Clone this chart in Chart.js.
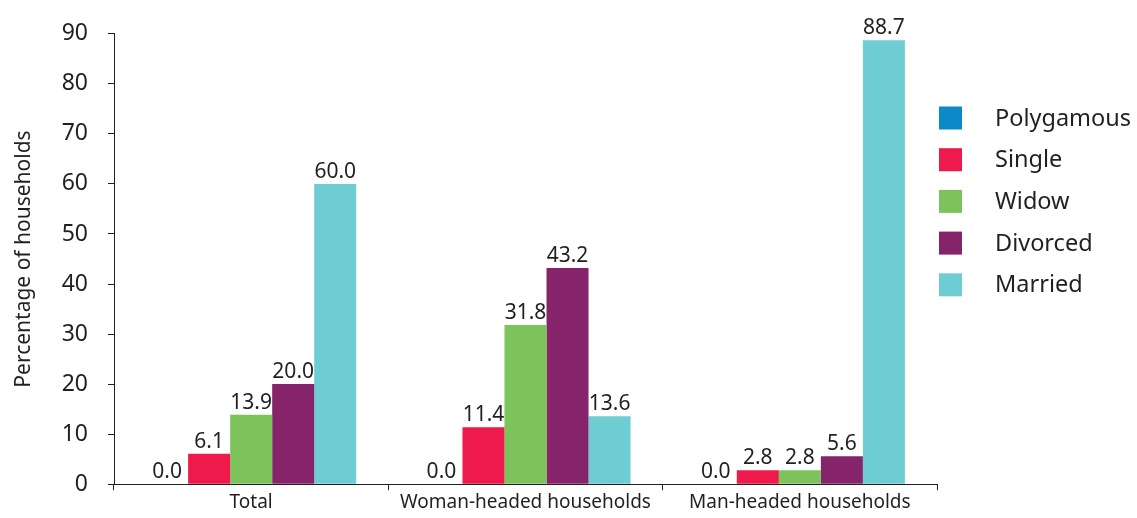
<!DOCTYPE html>
<html>
<head>
<meta charset="utf-8">
<script src="https://cdn.jsdelivr.net/npm/chart.js@4/dist/chart.umd.min.js"></script>
<style>
  html, body { margin: 0; padding: 0; background: #fff; }
  #wrap { width: 1137px; height: 518px; }
</style>
</head>
<body>
<div id="wrap"><canvas id="chart" width="1137" height="518"></canvas></div>
<script>
const categories = ["Total", "Woman-headed households", "Man-headed households"];
const seriesNames = ["Polygamous", "Single", "Widow", "Divorced", "Married"];
const polygamous = [0.0, 0.0, 0.0];
const single = [6.1, 11.4, 2.8];
const widow = [13.9, 31.8, 2.8];
const divorced = [20.0, 43.2, 5.6];
const married = [60.0, 13.6, 88.7];
const colors = ["#0a8ac6", "#ed1a4b", "#7dc35b", "#85246b", "#6ecdd2"];

const FONT = "'Noto Sans', sans-serif";
const INK = "#231f20";

const datasets = [polygamous, single, widow, divorced, married].map((vals, i) => ({
  label: seriesNames[i],
  data: vals,
  backgroundColor: colors[i],
  borderWidth: 0,
  categoryPercentage: 0.766,
  barPercentage: 1.0
}));

// value labels above each bar
const barLabels = {
  id: "barLabels",
  afterDatasetsDraw(chart) {
    const { ctx } = chart;
    ctx.save();
    ctx.font = "21px " + FONT;
    ctx.fillStyle = INK;
    ctx.textAlign = "center";
    ctx.textBaseline = "alphabetic";
    chart.data.datasets.forEach((ds, i) => {
      chart.getDatasetMeta(i).data.forEach((bar, j) => {
        ctx.fillText(ds.data[j].toFixed(1), bar.x, bar.y - 6);
      });
    });
    ctx.restore();
  }
};

// legend drawn at the right side
const sideLegend = {
  id: "sideLegend",
  afterDraw(chart) {
    const { ctx } = chart;
    ctx.save();
    ctx.font = "23.5px " + FONT;
    ctx.textBaseline = "middle";
    chart.data.datasets.forEach((ds, i) => {
      const cy = 118 + i * 41.7;
      ctx.fillStyle = ds.backgroundColor;
      ctx.fillRect(939, cy - 11.5, 23, 23);
      ctx.fillStyle = INK;
      ctx.fillText(ds.label, 995, cy + 1);
    });
    ctx.restore();
  }
};

new Chart(document.getElementById("chart"), {
  type: "bar",
  data: { labels: categories, datasets },
  options: {
    responsive: false,
    animation: false,
    layout: { padding: { top: 32, right: 200, left: 11, bottom: 0 } },
    plugins: {
      legend: { display: false },
      tooltip: { enabled: false }
    },
    scales: {
      x: {
        grid: {
          display: true,
          offset: true,
          drawOnChartArea: false,
          drawTicks: true,
          tickLength: 6,
          color: INK,
          lineWidth: 1
        },
        border: { display: true, color: INK, width: 1 },
        ticks: { color: INK, font: { family: FONT, size: 19 }, padding: 1 },
        afterFit(scale) { scale.height = 32; }
      },
      y: {
        min: 0,
        max: 90,
        ticks: { stepSize: 10, color: INK, font: { family: FONT, size: 23 }, padding: 20 },
        grid: {
          display: true,
          drawOnChartArea: false,
          drawTicks: true,
          tickLength: 6,
          color: INK,
          lineWidth: 1
        },
        border: { display: true, color: INK, width: 1 },
        title: {
          display: true,
          text: "Percentage of households",
          color: INK,
          font: { family: FONT, size: 21 },
          padding: 0
        },
        afterFit(scale) { scale.width = 103; }
      }
    }
  },
  plugins: [barLabels, sideLegend]
});
</script>
</body>
</html>
